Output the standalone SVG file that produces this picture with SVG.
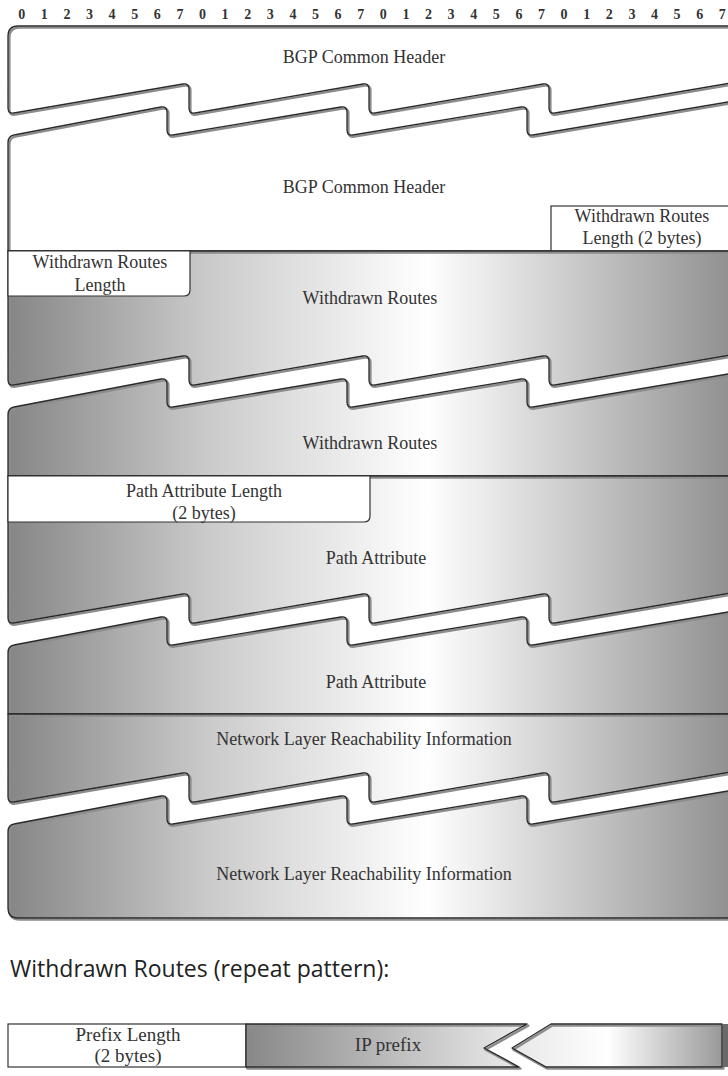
<svg xmlns="http://www.w3.org/2000/svg" xmlns:xlink="http://www.w3.org/1999/xlink" width="728" height="1076" viewBox="0 0 728 1076">
<style>
.lbl{font-family:"Liberation Serif",serif;font-size:18px;fill:#333;text-anchor:middle}
.lbl2{font-family:"Liberation Serif",serif;font-size:19px;fill:#333;text-anchor:middle}
.ruler{font-family:"Liberation Serif",serif;font-size:14px;font-weight:bold;fill:#333;text-anchor:middle}
.title{font-family:"Open Sans",sans-serif;font-size:23px;fill:#222}
.fw{fill:#fff}
.fg{fill:url(#gw)}
.fb{fill:url(#gb)}
.sh{fill:none;stroke:#8c8c8c;stroke-width:2.4;stroke-linejoin:round}
.ed{fill:none;stroke:#2a2a2a;stroke-width:1.3;stroke-linejoin:round}
.box{fill:#fff;stroke:#333;stroke-width:1.2}
</style>
<defs>
<linearGradient id="gw" x1="0" y1="0" x2="1" y2="0">
<stop offset="0" stop-color="#868686"/>
<stop offset="0.28" stop-color="#cbcbcb"/>
<stop offset="0.58" stop-color="#ffffff"/>
<stop offset="0.8" stop-color="#c6c6c6"/>
<stop offset="1" stop-color="#909090"/>
</linearGradient>
<linearGradient id="gb" gradientUnits="userSpaceOnUse" x1="246" y1="0" x2="722" y2="0">
<stop offset="0" stop-color="#888"/>
<stop offset="0.55" stop-color="#e6e6e6"/>
<stop offset="0.76" stop-color="#ffffff"/>
<stop offset="1" stop-color="#999"/>
</linearGradient>
<path id="p1" d="M 731,26 H 18 Q 8,26 8,36 L 8,108 Q 8,114 14,113 L 183,84 Q 189,83 189,89 L 189,108 Q 189,114 195,113 L 363,84 Q 369,83 369,89 L 369,108 Q 369,114 375,113 L 543,84 Q 549,83 549,89 L 549,108 Q 549,114 555,113 L 731,83 Z"/>
<path id="p2" d="M 8,251 L 8,143 Q 8,136 14,135 L 161,107 Q 167,106 167,112 L 167,130 Q 167,136 173,135 L 341,107 Q 347,106 347,112 L 347,130 Q 347,136 353,135 L 521,107 Q 527,106 527,112 L 527,130 Q 527,136 533,135 L 731,101.5 L 731,251 Z"/>
<path id="p3" d="M 731,251 H 8 L 8,380 Q 8,386 14,385 L 183,356 Q 189,355 189,361 L 189,380 Q 189,386 195,385 L 363,356 Q 369,355 369,361 L 369,380 Q 369,386 375,385 L 543,356 Q 549,355 549,361 L 549,380 Q 549,386 555,385 L 731,355 Z"/>
<path id="p4" d="M 8,476 L 8,415 Q 8,408 14,407 L 161,379 Q 167,378 167,384 L 167,402 Q 167,408 173,407 L 341,379 Q 347,378 347,384 L 347,402 Q 347,408 353,407 L 521,379 Q 527,378 527,384 L 527,402 Q 527,408 533,407 L 731,373.5 L 731,476 Z"/>
<path id="p5" d="M 731,476 H 8 L 8,618 Q 8,624 14,623 L 183,594 Q 189,593 189,599 L 189,618 Q 189,624 195,623 L 363,594 Q 369,593 369,599 L 369,618 Q 369,624 375,623 L 543,594 Q 549,593 549,599 L 549,618 Q 549,624 555,623 L 731,593 Z"/>
<path id="p6" d="M 8,714 L 8,653 Q 8,646 14,645 L 161,617 Q 167,616 167,622 L 167,640 Q 167,646 173,645 L 341,617 Q 347,616 347,622 L 347,640 Q 347,646 353,645 L 521,617 Q 527,616 527,622 L 527,640 Q 527,646 533,645 L 731,611.5 L 731,714 Z"/>
<path id="p7" d="M 731,714 H 8 L 8,797 Q 8,803 14,802 L 183,773 Q 189,772 189,778 L 189,797 Q 189,803 195,802 L 363,773 Q 369,772 369,778 L 369,797 Q 369,803 375,802 L 543,773 Q 549,772 549,778 L 549,797 Q 549,803 555,802 L 731,772 Z"/>
<path id="p8" d="M 8,908 L 8,832 Q 8,825 14,824 L 161,796 Q 167,795 167,801 L 167,819 Q 167,825 173,824 L 341,796 Q 347,795 347,801 L 347,819 Q 347,825 353,824 L 521,796 Q 527,795 527,801 L 527,819 Q 527,825 533,824 L 731,790.5 L 731,918 H 18 Q 8,918 8,908 Z"/>
<path id="pip" d="M 246,1024 H 527 L 484,1048 L 519,1067 H 246 Z"/>
<path id="ptail" d="M 551,1024 H 722 V 1067 H 546 L 512,1048 Z"/>
</defs>

<g id="ruler">
<text class="ruler" y="19" x="21.7 44.3 66.9 89.5 112.1 134.7 157.3 179.9 202.5 225.1 247.7 270.3 292.9 315.5 338.1 360.7 383.3 405.9 428.5 451.1 473.7 496.3 518.9 541.5 564.1 586.7 609.3 631.9 654.5 677.1 699.7 722.3">01234567012345670123456701234567</text>
</g>

<g id="bgp-header-1">
<use href="#p1" class="fw"/>
<use href="#p1" class="sh" transform="translate(1.4,1.6)"/>
<use href="#p1" class="ed"/>
<text class="lbl" x="364" y="63">BGP Common Header</text>
</g>

<g id="bgp-header-2">
<use href="#p2" class="fw"/>
<use href="#p2" class="sh" transform="translate(1.4,1.6)"/>
<use href="#p2" class="ed"/>
<text class="lbl" x="364" y="193">BGP Common Header</text>
</g>

<g id="withdrawn-routes-length-2bytes">
<rect class="box" x="551" y="206" width="180" height="45"/>
<text class="lbl" x="642" y="222">Withdrawn Routes</text>
<text class="lbl" x="642" y="244">Length (2 bytes)</text>
</g>

<g id="withdrawn-routes-1">
<use href="#p3" class="fg"/>
<use href="#p3" class="sh" transform="translate(1.4,1.6)"/>
<use href="#p3" class="ed"/>
<text class="lbl" x="370" y="304">Withdrawn Routes</text>
</g>

<g id="withdrawn-routes-length">
<path class="box" d="M 8,251 H 190 V 290 Q 190,296 184,296 H 8 Z"/>
<text class="lbl" x="100" y="268">Withdrawn Routes</text>
<text class="lbl" x="100" y="291">Length</text>
</g>

<g id="withdrawn-routes-2">
<use href="#p4" class="fg"/>
<use href="#p4" class="sh" transform="translate(1.4,1.6)"/>
<use href="#p4" class="ed"/>
<text class="lbl" x="370" y="449">Withdrawn Routes</text>
</g>

<g id="path-attribute-1">
<use href="#p5" class="fg"/>
<use href="#p5" class="sh" transform="translate(1.4,1.6)"/>
<use href="#p5" class="ed"/>
<text class="lbl" x="376" y="564">Path Attribute</text>
</g>

<g id="path-attribute-length">
<path class="box" d="M 8,476 H 370 V 516 Q 370,522 364,522 H 8 Z"/>
<text class="lbl" x="204" y="497">Path Attribute Length</text>
<text class="lbl" x="204" y="519">(2 bytes)</text>
</g>

<g id="path-attribute-2">
<use href="#p6" class="fg"/>
<use href="#p6" class="sh" transform="translate(1.4,1.6)"/>
<use href="#p6" class="ed"/>
<text class="lbl" x="376" y="688">Path Attribute</text>
</g>

<g id="nlri-1">
<use href="#p7" class="fg"/>
<use href="#p7" class="sh" transform="translate(1.4,1.6)"/>
<use href="#p7" class="ed"/>
<text class="lbl" x="364" y="745">Network Layer Reachability Information</text>
</g>

<g id="nlri-2">
<use href="#p8" class="fg"/>
<use href="#p8" class="sh" transform="translate(1.4,1.6)"/>
<use href="#p8" class="ed"/>
<text class="lbl" x="364" y="880">Network Layer Reachability Information</text>
</g>

<g id="connectors"></g>

<g id="repeat-title">
<text class="title" x="10" y="977">Withdrawn Routes (repeat pattern):</text>
</g>

<g id="prefix-length">
<rect class="box" x="8" y="1024" width="238" height="43"/>
<text class="lbl2" x="128" y="1041">Prefix Length</text>
<text class="lbl2" x="128" y="1062">(2 bytes)</text>
</g>

<g id="ip-prefix">
<use href="#pip" class="fb"/>
<use href="#pip" class="sh" transform="translate(1.4,1.6)"/>
<use href="#pip" class="ed"/>
<text class="lbl2" x="388" y="1051">IP prefix</text>
</g>

<g id="ip-prefix-cont">
<use href="#ptail" class="fb"/>
<use href="#ptail" class="sh" transform="translate(1.4,1.6)"/>
<use href="#ptail" class="ed"/>
<rect x="723" y="1024" width="5" height="43" fill="#6a6a6a"/>
</g>
</svg>
